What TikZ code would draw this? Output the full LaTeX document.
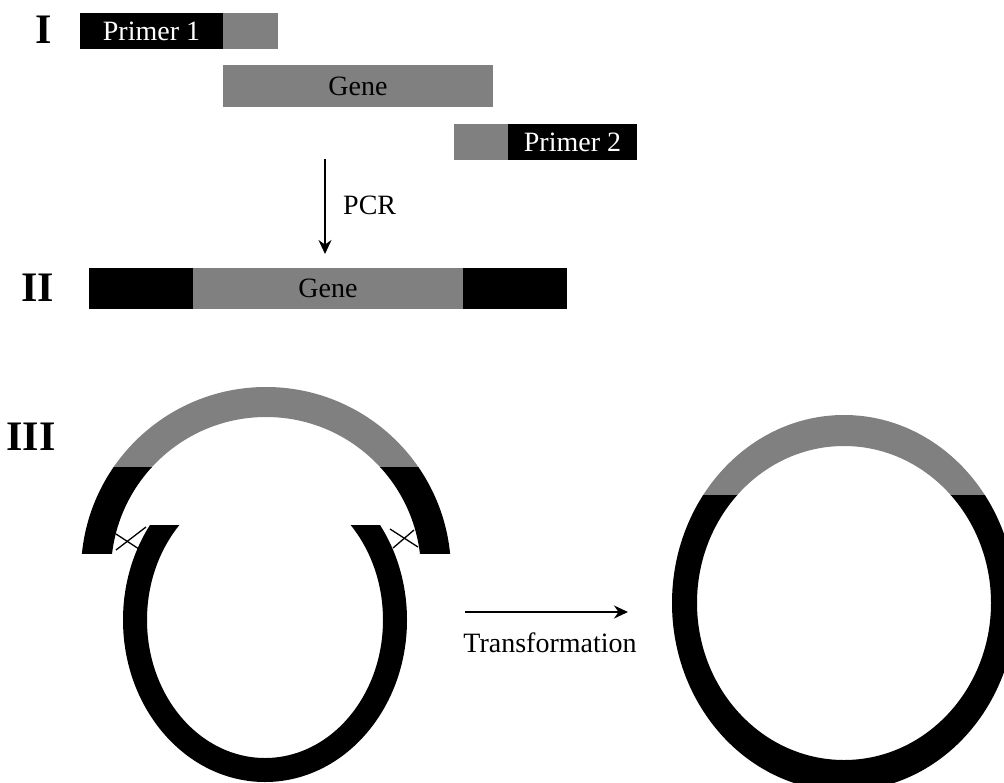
\documentclass[tikz,border=0pt]{standalone}
\usepackage{fontspec}
\setmainfont{Liberation Serif}
\usetikzlibrary{arrows.meta}
\definecolor{dnagray}{RGB}{128,128,128}
\begin{document}
\begin{tikzpicture}[x=1pt,y=-1pt,
  bar/.style={rectangle, inner sep=0pt, outer sep=0pt, font=\fontsize{28}{30}\selectfont},
  blk/.style={bar, fill=black, text=white},
  gry/.style={bar, fill=dnagray, text=black},
  lbl/.style={font=\fontsize{28}{30}\selectfont, inner sep=0pt},
  roman/.style={font=\fontsize{42}{46}\selectfont\bfseries, inner sep=0pt},
  arr/.style={line width=2pt, -{Stealth[length=14pt,width=13pt]}},
  cross/.style={line width=1.3pt}]
\fill[white] (0,0) rectangle (1004,782);
\useasboundingbox (0,0) rectangle (1004,782);

% ---------- I ----------
\node[roman] (rI) at (44,30) {I};
\node[blk, minimum width=143, minimum height=36] (p1) at (151.5,31) {Primer 1};
\node[gry, minimum width=55, minimum height=36] (p1g) at (250.5,31) {};
\node[gry, minimum width=270, minimum height=42] (gene) at (358,86) {Gene};
\node[gry, minimum width=54, minimum height=36] (p2g) at (481,142) {};
\node[blk, minimum width=129, minimum height=36] (p2) at (572.5,142) {Primer 2};

% PCR arrow
\coordinate (a1) at (325,159);
\coordinate (a2) at (325,254);
\draw[arr] (a1) -- (a2);
\node[lbl, anchor=west] (pcr) at (343,205) {PCR};

% ---------- II ----------
\node[roman] (rII) at (38,288) {II};
\node[blk, minimum width=104, minimum height=41] (b1) at (141,288.5) {};
\node[gry, minimum width=270, minimum height=41] (b2) at (328,288.5) {Gene};
\node[blk, minimum width=104, minimum height=41] (b3) at (515,288.5) {};

% ---------- III ----------
\node[roman] (rIII) at (31,437) {III};

% upper arc (gene with flanks)
\begin{scope}
  \clip (0,370) rectangle (1004,467);
  \fill[dnagray, even odd rule] (266,572) circle[radius=185pt] (266,572) circle[radius=155pt];
\end{scope}
\begin{scope}
  \clip (0,467) rectangle (1004,553);
  \fill[black, even odd rule] (266,572) circle[radius=185pt] (266,572) circle[radius=155pt];
\end{scope}

% open plasmid
\begin{scope}
  \clip (0,525) rectangle (1004,782);
  \fill[black, even odd rule] (265,620) ellipse[x radius=142pt, y radius=162pt]
                               (265,620) ellipse[x radius=118pt, y radius=138pt];
\end{scope}

% crossover marks
\draw[cross] (116,534) -- (139,549);
\draw[cross] (116,550) -- (146,527);
\draw[cross] (390,529) -- (418,547);
\draw[cross] (393,548) -- (414,530);

% transformation arrow
\coordinate (t1) at (465,612);
\coordinate (t2) at (628,612);
\draw[arr] (t1) -- (t2);
\node[lbl] (tf) at (550,643) {Transformation};

% recombinant plasmid
\begin{scope}
  \clip (0,380) rectangle (1004,495);
  \fill[dnagray, even odd rule] (844,603) ellipse[x radius=172pt, y radius=188pt]
                                 (844,603) ellipse[x radius=147pt, y radius=157pt];
\end{scope}
\begin{scope}
  \clip (0,495) rectangle (1004,782);
  \fill[black, even odd rule] (844,603) ellipse[x radius=172pt, y radius=188pt]
                               (844,603) ellipse[x radius=147pt, y radius=157pt];
\end{scope}
\end{tikzpicture}
\end{document}
